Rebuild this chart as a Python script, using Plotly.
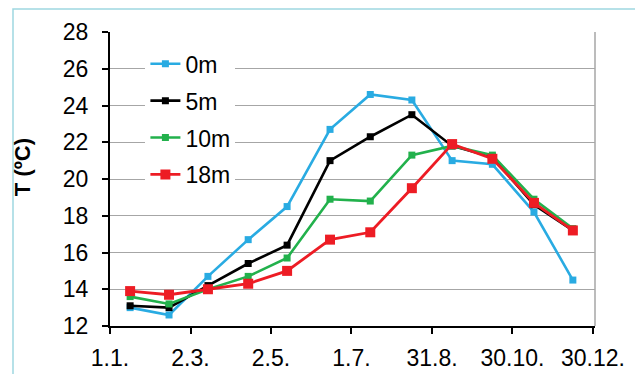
import plotly.graph_objects as go

# Day of year (1.1. = 0) of each monthly measurement
days = [15, 44, 73, 103, 132, 164, 194, 225, 255, 285, 316, 345]

# Water temperature (°C) at each depth
t_0m = [13.0, 12.6, 14.7, 16.7, 18.5, 22.7, 24.6, 24.3, 21.0, 20.8, 18.2, 14.5]
t_5m = [13.1, 13.0, 14.2, 15.4, 16.4, 21.0, 22.3, 23.5, 21.8, 21.2, 18.6, 17.2]
t_10m = [13.6, 13.2, 14.0, 14.7, 15.7, 18.9, 18.8, 21.3, 21.8, 21.3, 18.9, 17.3]
t_18m = [13.9, 13.7, 14.0, 14.3, 15.0, 16.7, 17.1, 19.5, 21.9, 21.1, 18.7, 17.2]

depth_names = ["0m", "5m", "10m", "18m"]
tick_days = [0, 60, 120, 180, 240, 300, 360]
tick_labels = ["1.1.", "2.3.", "2.5.", "1.7.", "31.8.", "30.10.", "30.12."]
y_ticks = [12, 14, 16, 18, 20, 22, 24, 26, 28]
y_title = "<b>T (ºC)</b>"

series = [t_0m, t_5m, t_10m, t_18m]
colors = ["#29abe2", "#000000", "#22b14c", "#ed1c24"]
marker_sizes = [7, 7, 7, 10]
line_widths = [2.6, 2.6, 2.6, 2.8]

fig = go.Figure()
for name, vals, col, ms, lw in zip(depth_names, series, colors, marker_sizes, line_widths):
    fig.add_trace(go.Scatter(
        x=days, y=vals, name=name, legendgroup=name,
        mode="lines+markers",
        line=dict(color=col, width=lw),
        marker=dict(symbol="square", size=ms, color=col),
    ))

font_main = "Liberation Sans, Arial, sans-serif"

fig.update_layout(
    width=635, height=374,
    margin=dict(l=110, r=40, t=32, b=48),
    paper_bgcolor="white", plot_bgcolor="white",
    font=dict(family=font_main, size=23, color="#000000"),
    showlegend=True,
    legend=dict(
        x=0.073, y=0.965, xanchor="left", yanchor="top",
        bgcolor="white", borderwidth=0,
        font=dict(size=23), tracegroupgap=4,
        itemwidth=30,
    ),
    xaxis=dict(
        range=[0, 361.5], automargin=False,
        tickmode="array", tickvals=tick_days, ticktext=tick_labels,
        showgrid=False, zeroline=False,
        showline=True, linecolor="black", linewidth=2,
        ticks="outside", ticklen=6, tickwidth=2, tickcolor="black",
        tickfont=dict(size=23), ticklabelstandoff=4,
    ),
    yaxis=dict(
        range=[12, 28], automargin=False,
        tickmode="array", tickvals=y_ticks,
        showgrid=True, gridcolor="#a6a6a6", gridwidth=1.3,
        zeroline=False,
        showline=True, linecolor="black", linewidth=2,
        ticks="outside", ticklen=6, tickwidth=2, tickcolor="black",
        tickfont=dict(size=23), ticklabelstandoff=9,
    ),
    annotations=[
        dict(text=y_title, xref="paper", yref="paper", x=-0.179, y=0.541,
             xanchor="center", yanchor="middle", textangle=-90, showarrow=False,
             font=dict(size=22, family=font_main, color="black")),
    ],
    shapes=[
        # plot-area border on the right
        dict(type="line", xref="x domain", yref="y domain", x0=1, x1=1, y0=0, y1=1,
             line=dict(color="#a6a6a6", width=1.5), layer="below"),
        # light frame around the chart
        dict(type="rect", xref="paper", yref="paper",
             x0=-0.2, x1=1.3, y0=-0.4, y1=1.078,
             line=dict(color="#9fd7e1", width=1.5), fillcolor="rgba(0,0,0,0)",
             layer="below"),
    ],
)

fig.write_html("out.html")
